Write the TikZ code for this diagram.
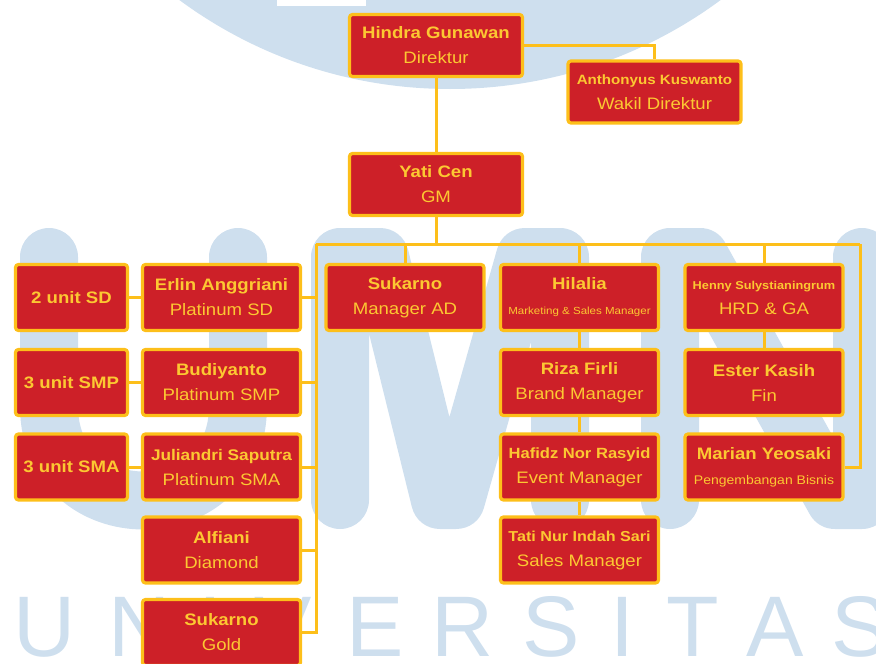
\documentclass[tikz,border=0pt]{standalone}
\usepackage{fontspec}
\setmainfont[FakeStretch=1.12]{Liberation Sans}
\newfontfamily\wmfont{Liberation Sans}

\definecolor{orgred}{HTML}{CD2028}
\definecolor{orgline}{HTML}{FDBF1A}
\definecolor{orgtext}{HTML}{FCC832}
\definecolor{wmblue}{HTML}{CEDFEE}

\begin{document}
\begin{tikzpicture}[x=1pt,y=-1pt]
  %----- styles
  \tikzset{
    staff/.style  ={draw=orgline,fill=orgred,text=orgtext,line width=3.2pt,rounded corners=3pt,
                    minimum width=158pt,minimum height=66pt,inner sep=0pt,align=center,
                    font=\fontsize{16.6}{25}\selectfont},
    topbox/.style ={staff,minimum width=173pt,minimum height=62pt},
    unitbox/.style={staff,minimum width=112pt,font=\fontsize{16.6}{25}\selectfont\bfseries},
    link/.style   ={draw=orgline,line width=3pt},
    logo/.style   ={draw=wmblue,line width=58pt,line cap=round,line join=round},
    wmletter/.style={text=wmblue,font=\wmfont\fontsize{86}{86}\selectfont,anchor=base,inner sep=0pt}
  }

  %==================== GRID ====================
  \def\xU{71.5}   % unit boxes
  \def\xL{221.5}  % platinum / diamond / gold
  \def\xAD{405}   % manager AD
  \def\xM{579.5}  % marketing column
  \def\xH{764}    % HRD column
  \def\xC{436}    % direktur / GM
  \def\rA{297.5}
  \def\rB{382.5}
  \def\rC{467}
  \def\rD{550}
  \def\rE{632.5}

  \useasboundingbox (0,0) rectangle (876,664);
  \clip (0,0) rectangle (876,664);

  %----- watermark
  \fill[wmblue] (450,-367) circle (456pt);
  \fill[white] (277,0) rectangle (366,6);
  \draw[logo] (49,257) -- (49,406) .. controls (49,532) and (238,532) .. (238,406) -- (238,257);
  \draw[logo] (340,500) -- (340,257) -- (380,257) -- (440,500) -- (456,500) -- (525,257) -- (560,257) -- (560,500);
  \draw[logo] (670,500) -- (670,257) -- (700,257) -- (835,500) -- (862,500) -- (862,257);
  \foreach \ch/\xc in {U/45,N/140,I/210,V/283,E/375,R/463,S/551,I/622,T/693,A/775,S/860}
    \node[wmletter] (wm-\xc) at (\xc,656) {\ch};

  %----- nodes
  \node[topbox] (hindra)  at (\xC,45.5) {\textbf{Hindra Gunawan}\\Direktur};
  \node[topbox] (anthony) at (654.5,92) {{\fontsize{13.5}{25}\selectfont\textbf{Anthonyus Kuswanto}}\\Wakil Direktur};
  \node[topbox] (yati)    at (\xC,184.5) {\textbf{Yati Cen}\\GM};

  % left: units and platinum / diamond / gold
  \node[unitbox] (sd)  at (\xU,\rA) {2 unit SD};
  \node[unitbox] (smp) at (\xU,\rB) {3 unit SMP};
  \node[unitbox] (sma) at (\xU,\rC) {3 unit SMA};
  \node[staff] (erlin) at (\xL,\rA) {\textbf{Erlin Anggriani}\\Platinum SD};
  \node[staff] (budi)  at (\xL,\rB) {\textbf{Budiyanto}\\Platinum SMP};
  \node[staff] (juli)  at (\xL,\rC) {{\fontsize{15.4}{25}\selectfont\textbf{Juliandri Saputra}}\\Platinum SMA};
  \node[staff] (alfi)  at (\xL,\rD) {\textbf{Alfiani}\\Diamond};
  \node[staff] (gold)  at (\xL,\rE) {\textbf{Sukarno}\\Gold};

  % middle and right columns
  \node[staff] (sukAD)   at (\xAD,\rA) {\textbf{Sukarno}\\Manager AD};
  \node[staff] (hilalia) at (\xM,\rA) {\textbf{Hilalia}\\{\fontsize{10.3}{25}\selectfont Marketing \& Sales Manager}};
  \node[staff] (riza)    at (\xM,\rB) {\textbf{Riza Firli}\\Brand Manager};
  \node[staff] (hafidz)  at (\xM,\rC) {{\fontsize{14.8}{25}\selectfont\textbf{Hafidz Nor Rasyid}}\\Event Manager};
  \node[staff] (tati)    at (\xM,\rD) {{\fontsize{14.4}{25}\selectfont\textbf{Tati Nur Indah Sari}}\\Sales Manager};
  \node[staff] (henny)   at (\xH,\rA) {{\fontsize{11.4}{25}\selectfont\textbf{Henny Sulystianingrum}}\\HRD \& GA};
  \node[staff] (ester)   at (\xH,\rB) {\textbf{Ester Kasih}\\Fin};
  \node[staff] (marian)  at (\xH,\rC) {\textbf{Marian Yeosaki}\\{\fontsize{12.5}{25}\selectfont Pengembangan Bisnis}};

  %----- connections
  \coordinate (busL) at (316,244);
  \coordinate (busR) at (860,244);
  \draw[link] (hindra.east) -| (anthony.north);
  \draw[link] (hindra) -- (yati);
  \draw[link] (yati.south) -- (yati.south |- busL);
  \draw[link] (busL) -- (busR);
  \draw[link] (busL) |- (gold.east);
  \foreach \n in {erlin,budi,juli,alfi}
    \draw[link] (\n.east) -- (\n.east -| busL);
  \foreach \u/\n in {sd/erlin,smp/budi,sma/juli}
    \draw[link] (\u) -- (\n);
  \foreach \n in {sukAD,hilalia,henny}
    \draw[link] (\n.north) -- (\n.north |- busL);
  \draw[link] (hilalia) -- (riza);
  \draw[link] (riza) -- (hafidz);
  \draw[link] (hafidz) -- (tati);
  \draw[link] (henny) -- (ester);
  \draw[link] (busR) |- (marian.east);

\end{tikzpicture}
\end{document}
